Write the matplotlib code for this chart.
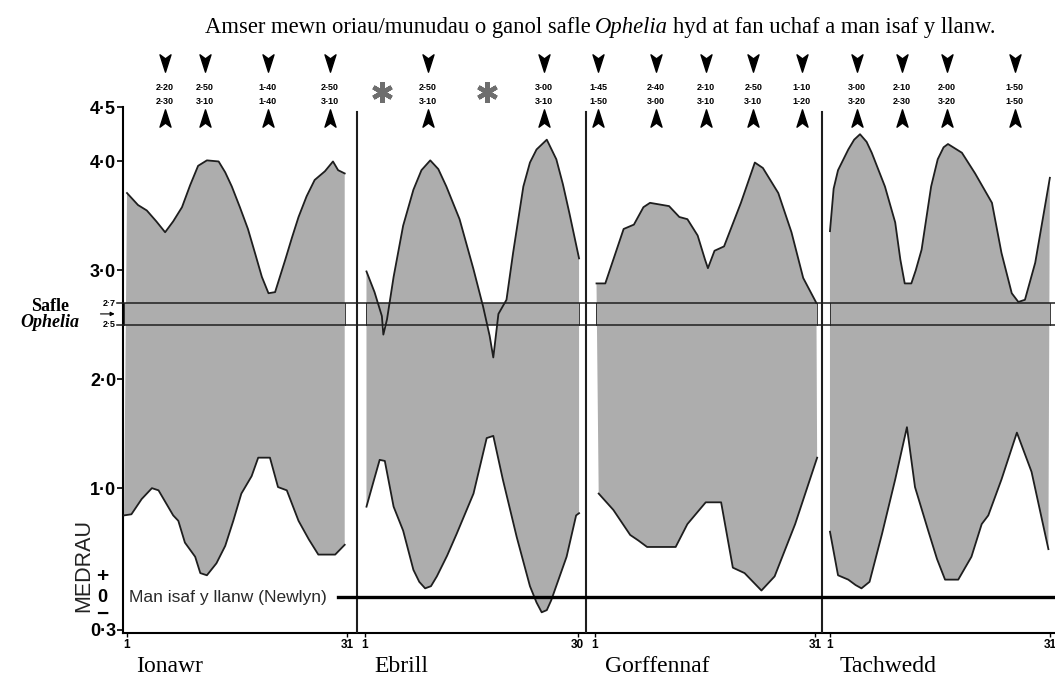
import numpy as np
import matplotlib
matplotlib.use("Agg")
import matplotlib.pyplot as plt
from matplotlib.path import Path

# ---------------- data ----------------
months = ["Ionawr", "Ebrill", "Gorffennaf", "Tachwedd"]
month_len = [31, 30, 31, 31]

ionawr_up_d = [1.0, 2.5, 3.7, 5.0, 6.2, 7.3, 8.5, 9.6, 10.7, 11.9, 13.5, 14.4, 15.3, 16.4, 17.5, 18.5, 19.4, 20.3, 21.2, 22.6, 23.5, 24.4, 25.5, 26.6, 28.0, 29.1, 29.8, 30.7]
ionawr_up_v = [3.71, 3.60, 3.55, 3.45, 3.35, 3.45, 3.58, 3.78, 3.96, 4.01, 4.00, 3.90, 3.77, 3.58, 3.38, 3.15, 2.94, 2.79, 2.80, 3.10, 3.30, 3.49, 3.68, 3.83, 3.91, 4.00, 3.92, 3.89]
ionawr_lo_d = [0.6, 1.6, 3.0, 4.4, 5.3, 7.3, 8.0, 8.9, 10.3, 11.0, 11.9, 13.2, 14.4, 15.5, 16.6, 18.0, 18.9, 20.5, 21.6, 22.8, 24.4, 25.8, 27.1, 29.4, 30.7]
ionawr_lo_v = [0.75, 0.76, 0.90, 1.00, 0.98, 0.75, 0.70, 0.50, 0.37, 0.22, 0.20, 0.31, 0.47, 0.70, 0.95, 1.11, 1.28, 1.28, 1.01, 0.98, 0.70, 0.53, 0.39, 0.39, 0.48]

ebrill_up_d = [1.2, 2.3, 3.3, 3.5, 4.0, 4.9, 6.2, 7.6, 8.7, 9.9, 11.0, 12.1, 13.9, 15.8, 17.1, 18.0, 18.5, 19.2, 20.3, 21.2, 22.6, 23.5, 24.4, 25.8, 27.1, 28.0, 28.9, 30.2]
ebrill_up_v = [2.99, 2.80, 2.58, 2.41, 2.55, 2.94, 3.41, 3.74, 3.92, 4.01, 3.93, 3.77, 3.47, 3.01, 2.67, 2.40, 2.20, 2.60, 2.73, 3.16, 3.77, 3.99, 4.11, 4.20, 4.02, 3.79, 3.52, 3.11]
ebrill_lo_d = [1.2, 2.2, 3.0, 3.7, 4.9, 6.2, 7.6, 8.4, 9.2, 10.0, 10.8, 12.2, 13.5, 15.8, 17.6, 18.5, 19.8, 21.7, 23.5, 24.4, 25.1, 25.8, 26.4, 28.5, 29.8, 30.2]
ebrill_lo_v = [0.83, 1.07, 1.26, 1.25, 0.83, 0.61, 0.25, 0.14, 0.08, 0.10, 0.19, 0.38, 0.58, 0.95, 1.46, 1.48, 1.08, 0.55, 0.10, -0.05, -0.14, -0.12, -0.03, 0.37, 0.75, 0.77]

gorff_up_d = [1.2, 2.4, 3.5, 4.9, 6.3, 7.6, 8.5, 11.1, 12.5, 13.6, 15.0, 16.0, 16.4, 17.3, 18.6, 20.9, 22.8, 23.9, 26.0, 27.8, 29.4, 31.2]
gorff_up_v = [2.88, 2.88, 3.10, 3.38, 3.42, 3.58, 3.62, 3.59, 3.49, 3.47, 3.32, 3.10, 3.02, 3.18, 3.22, 3.62, 3.99, 3.94, 3.71, 3.35, 2.93, 2.70]
gorff_lo_d = [1.5, 3.5, 5.8, 6.9, 8.1, 12.0, 13.6, 16.1, 18.2, 19.8, 21.4, 23.7, 25.5, 28.3, 31.3]
gorff_lo_v = [0.95, 0.80, 0.57, 0.52, 0.46, 0.46, 0.67, 0.87, 0.87, 0.27, 0.22, 0.06, 0.19, 0.67, 1.28]

tach_up_d = [1.0, 1.5, 2.1, 3.5, 4.3, 5.1, 6.0, 6.7, 8.5, 9.9, 10.6, 11.2, 12.1, 12.7, 13.5, 14.8, 15.7, 16.5, 17.1, 19.0, 20.8, 23.1, 24.4, 25.8, 26.7, 27.6, 29.0, 31.0]
tach_up_v = [3.36, 3.75, 3.92, 4.11, 4.20, 4.25, 4.18, 4.08, 3.77, 3.44, 3.10, 2.88, 2.88, 3.00, 3.19, 3.77, 4.02, 4.13, 4.16, 4.08, 3.89, 3.62, 3.16, 2.79, 2.71, 2.73, 3.07, 3.85]
tach_lo_d = [1.0, 2.1, 3.5, 4.5, 5.3, 6.4, 8.1, 9.9, 11.5, 12.6, 14.4, 15.6, 16.7, 18.5, 20.3, 21.7, 22.6, 24.4, 26.5, 28.5, 30.8]
tach_lo_v = [0.60, 0.20, 0.16, 0.11, 0.08, 0.14, 0.58, 1.08, 1.56, 1.01, 0.61, 0.35, 0.16, 0.16, 0.37, 0.67, 0.75, 1.08, 1.51, 1.15, 0.44]

# annotation days (time from Ophelia site to high / low water)
ann_days = [[6.2, 11.6, 20.2, 28.7], [9.6, 25.4], [1.4, 9.3, 16.1, 22.6, 29.2], [4.7, 10.8, 17.0, 26.2]]
ann_top = [["2-20", "2-50", "1-40", "2-50"], ["2-50", "3-00"],
           ["1-45", "2-40", "2-10", "2-50", "1-10"], ["3-00", "2-10", "2-00", "1-50"]]
ann_bot = [["2-30", "3-10", "1-40", "3-10"], ["3-10", "3-10"],
           ["1-50", "3-00", "3-10", "3-10", "1-20"], ["3-20", "2-30", "3-20", "1-50"]]
star_days_ebrill = [3.3, 17.6]

site_low, site_high = 2.5, 2.7
yticks = [4.5, 4.0, 3.0, 2.0, 1.0, -0.3]
ytick_labels = ["4·5", "4·0", "3·0", "2·0", "1·0", "0·3"]

# ---------------- layout ----------------
offsets = [0.0, 32.47, 63.85, 95.9]          # x position of day 1 of each month
separators = [31.38, 62.62, 94.82]
GREY = "#adadad"
LINE = "#1e1e1e"

W, H = 1055, 682
fig = plt.figure(figsize=(W / 100, H / 100), dpi=100)
ax = fig.add_axes([123 / W, (H - 633) / H, (W - 123) / W, (633 - 107) / H])
ax.set_xlim(-0.546, 126.6)
ax.set_ylim(-0.33, 4.5)

ups = [(ionawr_up_d, ionawr_up_v), (ebrill_up_d, ebrill_up_v), (gorff_up_d, gorff_up_v), (tach_up_d, tach_up_v)]
los = [(ionawr_lo_d, ionawr_lo_v), (ebrill_lo_d, ebrill_lo_v), (gorff_lo_d, gorff_lo_v), (tach_lo_d, tach_lo_v)]

for i in range(4):
    ud, uv = np.array(ups[i][0]), np.array(ups[i][1])
    ld, lv = np.array(los[i][0]), np.array(los[i][1])
    xu = offsets[i] + ud - 1
    xl = offsets[i] + ld - 1
    ax.fill(np.r_[xu, xl[::-1]], np.r_[uv, lv[::-1]], color=GREY, lw=0, zorder=1)
    x0, x1 = min(xu.min(), xl.min()), max(xu.max(), xl.max())
    ax.fill_between([x0, x1], site_low, site_high, color=GREY, lw=0, zorder=1)
    ax.plot([x0, x0], [site_low, site_high], color=LINE, lw=0.6, zorder=2)
    ax.plot([x1, x1], [site_low, site_high], color=LINE, lw=0.6, zorder=2)
    ax.plot(xu, uv, color=LINE, lw=1.3, zorder=3, solid_joinstyle="round")
    ax.plot(xl, lv, color=LINE, lw=1.3, zorder=3, solid_joinstyle="round")

# site lines
for yv in (site_low, site_high):
    ax.plot([-1.4, 126.6], [yv, yv], color=LINE, lw=1.1, zorder=4, clip_on=False)

# separators
for s in separators:
    ax.plot([s, s], [-0.33, 4.45], color=LINE, lw=1.5, zorder=4)

# zero line
ax.axhline(0, xmin=(338 - 123) / (W - 123), xmax=1, color="black", lw=2.4, zorder=4)
ax.text(0.3, 0, "Man isaf y llanw (Newlyn)", fontsize=12.5, family="Liberation Sans",
        color="#2a2a2a", va="center", ha="left", zorder=5)

# spines / ticks
for sp in ("top", "right"):
    ax.spines[sp].set_visible(False)
ax.spines["left"].set_linewidth(1.5)
ax.spines["bottom"].set_linewidth(1.5)
ax.set_yticks(yticks)
ax.set_yticklabels(ytick_labels, fontsize=13, fontweight="bold", family="Liberation Sans")
ax.tick_params(axis="y", length=4, width=1.2, pad=1)

xt, xlab = [], []
for i in range(4):
    xt += [offsets[i], offsets[i] + month_len[i] - 1]
    xlab += ["1", str(month_len[i])]
ax.set_xticks(xt)
ax.set_xticklabels(xlab, fontsize=8.5, fontweight="bold", family="Liberation Sans")
ax.tick_params(axis="x", length=3, width=1, pad=1)

# zero label with + / -
ax.text(-3.4, 0, "0", fontsize=13, fontweight="bold", family="Liberation Sans", ha="center", va="center", clip_on=False)
ax.text(-3.4, 0.19, "+", fontsize=15, fontweight="bold", family="Liberation Sans", ha="center", va="center", clip_on=False)
ax.text(-3.4, -0.16, "−", fontsize=15, fontweight="bold", family="Liberation Sans", ha="center", va="center", clip_on=False)
fig.text(84 / W, 1 - 566 / H, "MEDRAU", rotation=90, fontsize=15.5, family="Liberation Sans",
         color="#222", ha="center", va="center")

# Safle Ophelia
fig.text(50 / W, 1 - 311 / H, "Safle", fontsize=13, fontweight="bold", family="Liberation Serif", ha="center", va="baseline")
fig.text(50 / W, 1 - 327 / H, "Ophelia", fontsize=13, fontweight="bold", style="italic", family="Liberation Serif", ha="center", va="baseline")
ax.annotate("", xy=(-1.3, 2.6), xytext=(-4.0, 2.6), xycoords="data",
            arrowprops=dict(arrowstyle="-|>", lw=0.8, color="black", mutation_scale=6), annotation_clip=False)
ax.text(-1.6, site_high, "2·7", fontsize=6.5, fontweight="bold", family="Liberation Sans", ha="right", va="center", clip_on=False)
ax.text(-1.6, site_low, "2·5", fontsize=6.5, fontweight="bold", family="Liberation Sans", ha="right", va="center", clip_on=False)

# month names
for i, m in enumerate(months):
    fig.text((127 + (offsets[i] + 1.3) * 7.33) / W, 1 - 667 / H, m, fontsize=17,
             family="Liberation Serif", ha="left", va="center")

# annotation arrows / times
down = Path([(-0.38, 0.6), (0, -0.6), (0.38, 0.6), (0, 0.32), (-0.38, 0.6)],
            [Path.MOVETO, Path.LINETO, Path.LINETO, Path.LINETO, Path.CLOSEPOLY])
up = Path([(-0.38, -0.6), (0, 0.6), (0.38, -0.6), (0, -0.32), (-0.38, -0.6)],
          [Path.MOVETO, Path.LINETO, Path.LINETO, Path.LINETO, Path.CLOSEPOLY])
for i in range(4):
    for d, t1, t2 in zip(ann_days[i], ann_top[i], ann_bot[i]):
        x = offsets[i] + d - 1
        ax.plot(x, 4.90, marker=down, ms=12.5, color="black", clip_on=False, zorder=6)
        ax.plot(x, 4.40, marker=up, ms=12.5, color="black", clip_on=False, zorder=6)
        ax.text(x, 4.675, t1, fontsize=6.5, fontweight="bold", family="Liberation Sans",
                ha="center", va="center", clip_on=False)
        ax.text(x, 4.555, t2, fontsize=6.5, fontweight="bold", family="Liberation Sans",
                ha="center", va="center", clip_on=False)
for d in star_days_ebrill:
    ax.plot(offsets[1] + d - 1, 4.64, marker=(6, 2, 0), ms=15, mew=3.2, color="#6e6e6e", clip_on=False, zorder=6)

# title with italic word
renderer = fig.canvas.get_renderer()
parts = [("Amser mewn oriau/munudau o ganol safle", "normal", 0), ("Ophelia", "italic", 4),
         ("hyd at fan uchaf a man isaf y llanw.", "normal", 5)]
x = 205 / W
for txt, st, gap in parts:
    x += gap / W
    t = fig.text(x, 1 - 33 / H, txt, fontsize=16.3, family="Liberation Serif", style=st,
                 ha="left", va="baseline")
    bb = t.get_window_extent(renderer)
    x = bb.x1 / W

fig.savefig("out.png", dpi=100)
